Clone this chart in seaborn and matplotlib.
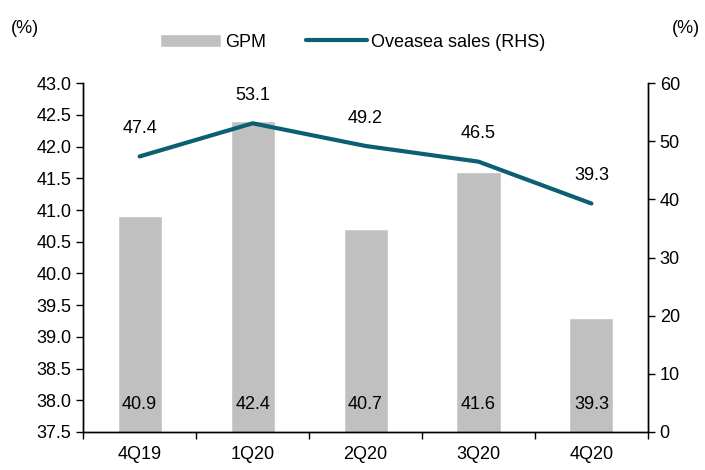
import matplotlib
matplotlib.use("Agg")
import matplotlib.pyplot as plt
import seaborn as sns
import pandas as pd

quarters = ["4Q19", "1Q20", "2Q20", "3Q20", "4Q20"]
gpm = [40.9, 42.4, 40.7, 41.6, 39.3]
overseas = [47.4, 53.1, 49.2, 46.5, 39.3]

sns.set_theme(style="ticks")
plt.rcParams['font.family'] = ['Liberation Sans', 'DejaVu Sans']
plt.rcParams.update({"text.color": "black", "axes.labelcolor": "black",
                     "xtick.color": "black", "ytick.color": "black",
                     "axes.edgecolor": "black"})

df = pd.DataFrame({"quarter": quarters, "gpm": gpm, "overseas": overseas})
fs = 13

fig = plt.figure(figsize=(7.05, 4.7), dpi=100)
ax = fig.add_axes([0.118, 0.081, 0.801, 0.742])
ax.bar(range(len(quarters)), df["gpm"], width=0.39, color="#c0c0c0", label="GPM")
ax.set_ylim(37.5, 43.0)
ax.set_yticks([37.5 + 0.5 * i for i in range(12)])
ax.set_yticklabels([f"{37.5 + 0.5 * i:.1f}" for i in range(12)])
ax.set_xlim(-0.5, len(quarters) - 0.5)
ax.set_xticks(range(len(quarters)))
ax.set_xticklabels(quarters)
ax.set_xticks([i + 0.5 for i in range(len(quarters) - 1)] + [-0.5, len(quarters) - 0.5], minor=True)
ax.tick_params(axis="x", which="major", length=0, labelsize=fs, pad=10)
ax.tick_params(axis="x", which="minor", bottom=True, length=5, direction="out", width=1)
ax.tick_params(axis="y", length=5, width=1, direction="out", labelsize=fs, left=True)
for i, v in enumerate(gpm):
    ax.text(i, 37.93, f"{v:.1f}", ha="center", va="center", fontsize=fs)

ax2 = ax.twinx()
sns.lineplot(x=range(len(quarters)), y=df["overseas"], ax=ax2, color="#0b5f73", linewidth=3,
             label="Oveasea sales (RHS)", legend=False)
ax2.set_ylim(0, 60)
ax2.set_yticks(range(0, 61, 10))
ax2.set_ylabel("")
ax2.tick_params(axis="y", length=5, width=1, direction="out", labelsize=fs, right=True)
for i, v in enumerate(overseas):
    ax2.text(i, v + 3.3, f"{v:.1f}", ha="center", va="bottom", fontsize=fs)

for a in (ax, ax2):
    a.grid(False)
    for s in ["left", "right", "bottom"]:
        a.spines[s].set_visible(True)
        a.spines[s].set_linewidth(1)
    a.spines["top"].set_visible(False)

h1, l1 = ax.get_legend_handles_labels()
h2, l2 = ax2.get_legend_handles_labels()
fig.legend(h1 + h2, l1 + l2, loc="center", bbox_to_anchor=(0.5, 0.91), ncol=2, frameon=False,
           fontsize=fs, handlelength=3.4, handletextpad=0.2, columnspacing=2.2)

fig.text(0.015, 0.94, "(%)", fontsize=fs, ha="left", va="center")
fig.text(0.993, 0.94, "(%)", fontsize=fs, ha="right", va="center")

plt.savefig("out.png", dpi=100)
